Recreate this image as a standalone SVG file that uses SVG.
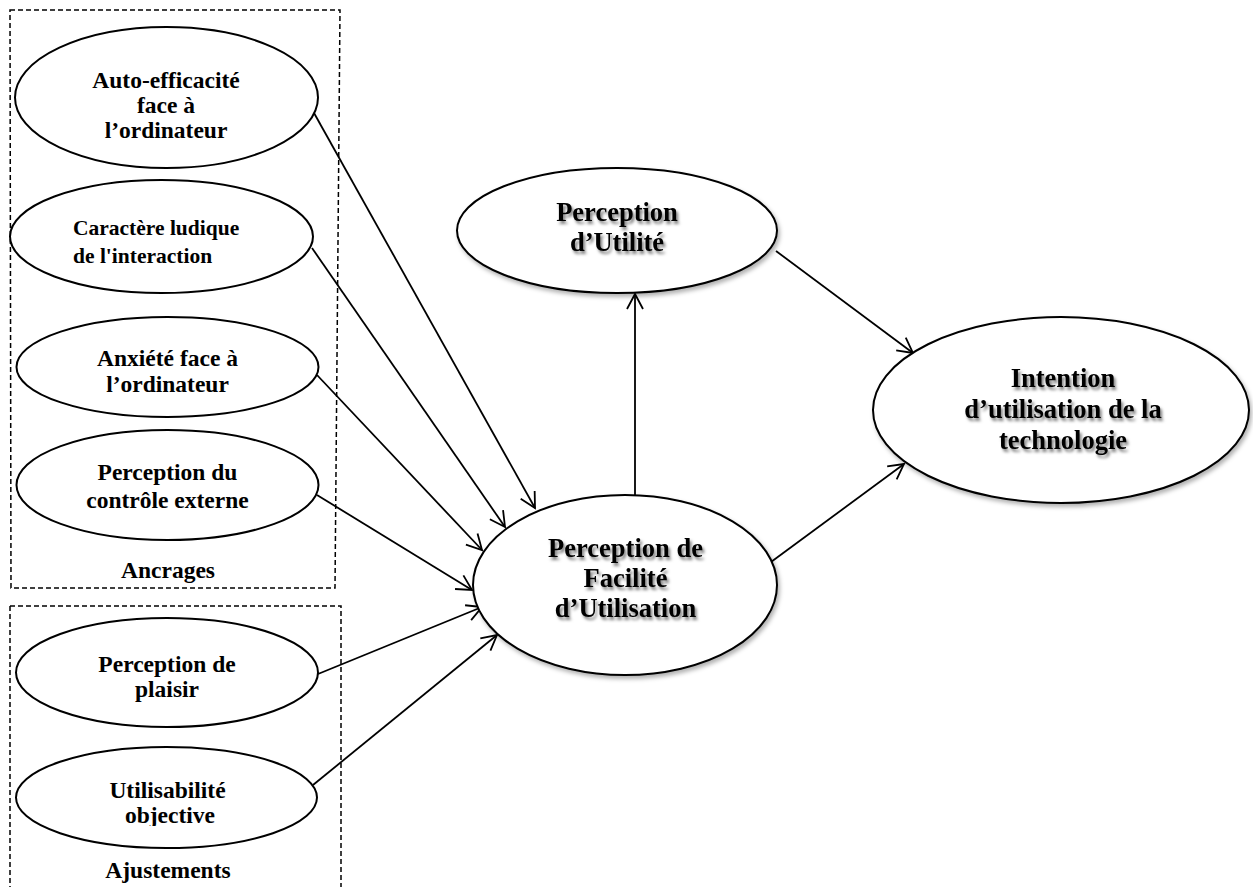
<svg xmlns="http://www.w3.org/2000/svg" width="1253" height="887" viewBox="0 0 1253 887">
  <style>
    .frame { fill: none; stroke: #000; stroke-width: 1.5; stroke-dasharray: 5 3; }
    .node { fill: #fff; stroke: #000; stroke-width: 2; }
    .lbl { font-family: "Liberation Serif", "Times New Roman", serif; font-weight: bold; fill: #000; font-size: 23.5px; text-anchor: middle; }
    .small { font-size: 21.5px; text-anchor: start; }
    .big { font-size: 26.5px; }
    .link { fill: none; stroke: #000; stroke-width: 1.8; marker-end: url(#arrow); }
  </style>
  <defs>
    <marker id="arrow" viewBox="-18 -11 20 22" refX="0" refY="0" markerWidth="20" markerHeight="22" markerUnits="userSpaceOnUse" orient="auto">
      <path d="M-15,-8 L0,0 L-15,8" fill="none" stroke="#000" stroke-width="1.8"/>
    </marker>
    <filter id="shade" x="-10%" y="-10%" width="125%" height="130%">
      <feDropShadow dx="2" dy="3" stdDeviation="2" flood-color="#000" flood-opacity="0.3"/>
    </filter>
    <filter id="textShade" x="-10%" y="-20%" width="125%" height="150%">
      <feDropShadow dx="2" dy="3" stdDeviation="1.8" flood-color="#000" flood-opacity="0.5"/>
    </filter>
    <clipPath id="clipObj">
      <rect x="100" y="780" width="140" height="46"/>
    </clipPath>
  </defs>

  <!-- dashed group frames -->
  <g id="frame-ancrages">
    <path class="frame" d="M10,10 L340,10 L335,588 L11,588 Z"/>
    <text class="lbl" x="168" y="578">Ancrages</text>
  </g>
  <g id="frame-ajustements">
    <path class="frame" d="M10,606 L341,606 L341,890 M10,606 L10,890"/>
    <text class="lbl" x="168" y="878">Ajustements</text>
  </g>

  <!-- connectors -->
  <g id="connectors">
    <line class="link" x1="314" y1="113" x2="535" y2="508"/>
    <line class="link" x1="312" y1="248" x2="505" y2="527"/>
    <line class="link" x1="317" y1="375" x2="482" y2="550"/>
    <line class="link" x1="317" y1="495" x2="472" y2="590"/>
    <line class="link" x1="318" y1="674" x2="482" y2="607"/>
    <line class="link" x1="313" y1="785" x2="497" y2="635"/>
    <line class="link" x1="635" y1="495" x2="635" y2="294"/>
    <line class="link" x1="776" y1="251" x2="913" y2="353"/>
    <line class="link" x1="771" y1="562" x2="904" y2="464"/>
  </g>

  <!-- antecedent nodes -->
  <g id="auto-efficacite">
    <ellipse class="node" cx="166.5" cy="97.5" rx="151.5" ry="70.5"/>
    <text class="lbl" x="166" y="88">Auto-efficacité</text>
    <text class="lbl" x="166" y="113">face à</text>
    <text class="lbl" x="166" y="138">l’ordinateur</text>
  </g>
  <g id="caractere-ludique">
    <ellipse class="node" cx="161.5" cy="236.5" rx="151.5" ry="56.5"/>
    <text class="lbl small" x="73" y="235">Caractère ludique</text>
    <text class="lbl small" x="73" y="263">de l'interaction</text>
  </g>
  <g id="anxiete">
    <ellipse class="node" cx="167.5" cy="367" rx="151" ry="50"/>
    <text class="lbl" x="167.5" y="366">Anxiété face à</text>
    <text class="lbl" x="167.5" y="392">l’ordinateur</text>
  </g>
  <g id="controle-externe">
    <ellipse class="node" cx="167.5" cy="485" rx="151" ry="55"/>
    <text class="lbl" x="167.5" y="480">Perception du</text>
    <text class="lbl" x="167.5" y="508">contrôle externe</text>
  </g>
  <g id="plaisir">
    <ellipse class="node" cx="167" cy="672.5" rx="151" ry="54.5"/>
    <text class="lbl" x="167" y="672">Perception de</text>
    <text class="lbl" x="167" y="697">plaisir</text>
  </g>
  <g id="utilisabilite">
    <ellipse class="node" cx="166.5" cy="797.5" rx="150.5" ry="50.5"/>
    <text class="lbl" x="167.5" y="798">Utilisabilité</text>
    <text class="lbl" x="170" y="823" clip-path="url(#clipObj)">objective</text>
  </g>

  <!-- core constructs -->
  <g id="utilite">
    <ellipse class="node" cx="617" cy="230.5" rx="160" ry="62.5" filter="url(#shade)"/>
    <g class="lbl big" filter="url(#textShade)">
      <text x="617" y="221">Perception</text>
      <text x="617" y="251">d’Utilité</text>
    </g>
  </g>
  <g id="facilite">
    <ellipse class="node" cx="625" cy="585" rx="152" ry="90" filter="url(#shade)"/>
    <g class="lbl big" filter="url(#textShade)">
      <text x="625.5" y="557">Perception de</text>
      <text x="625.5" y="587">Facilité</text>
      <text x="625.5" y="617">d’Utilisation</text>
    </g>
  </g>
  <g id="intention">
    <ellipse class="node" cx="1061" cy="410" rx="188" ry="93" filter="url(#shade)"/>
    <g class="lbl big" filter="url(#textShade)">
      <text x="1063" y="387">Intention</text>
      <text x="1063" y="418">d’utilisation de la</text>
      <text x="1063" y="449">technologie</text>
    </g>
  </g>
</svg>
